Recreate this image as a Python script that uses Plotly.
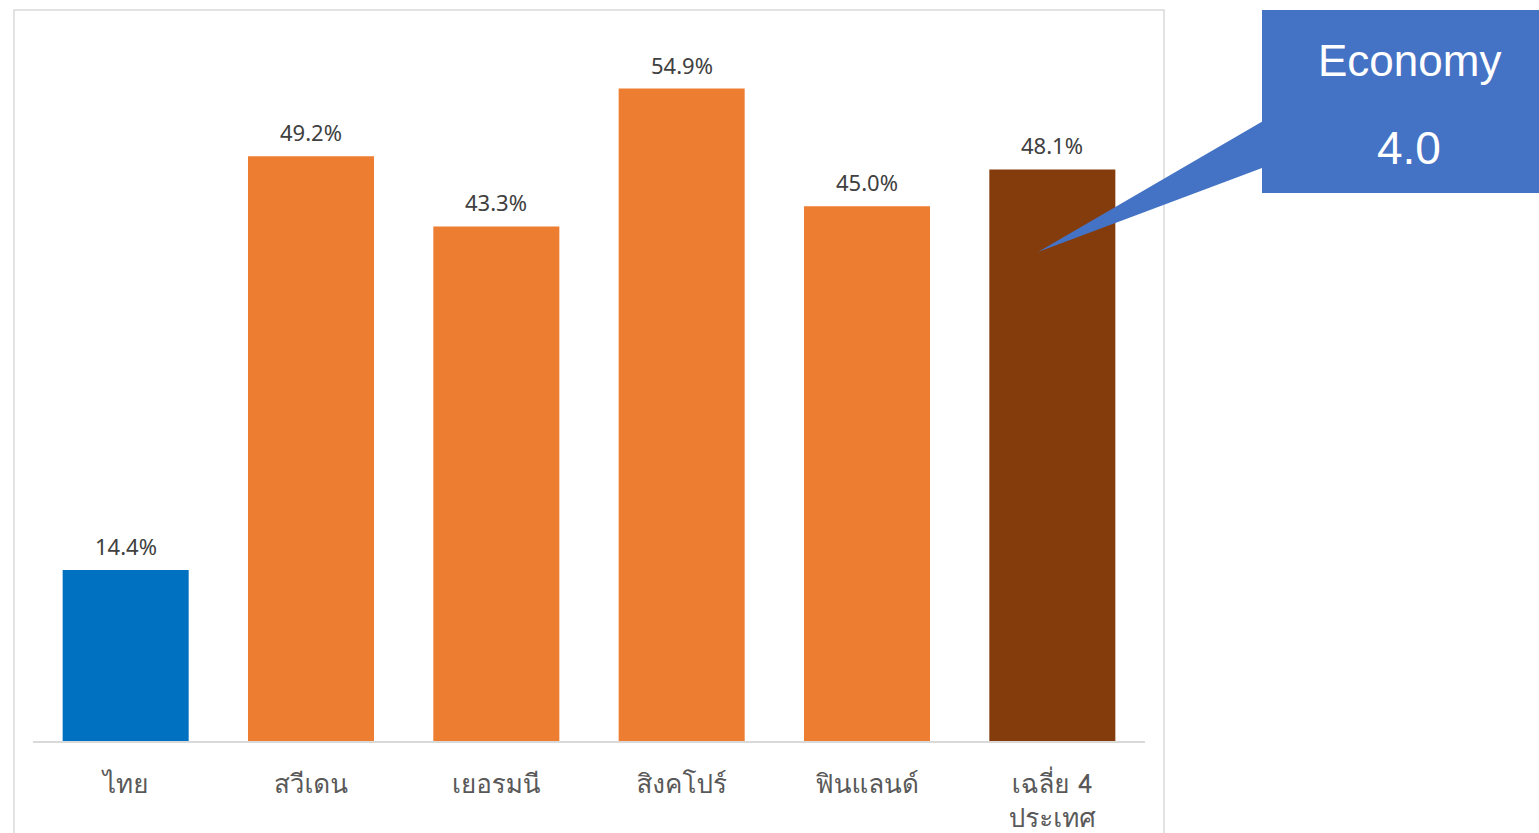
import plotly.graph_objects as go

# Share of high-skill employment (%)
categories = ["ไทย", "สวีเดน", "เยอรมนี", "สิงคโปร์", "ฟินแลนด์", "เฉลี่ย 4<br>ประเทศ"]
values = [14.4, 49.2, 43.3, 54.9, 45.0, 48.1]
bar_colors = ["#0070C0", "#ED7D31", "#ED7D31", "#ED7D31", "#ED7D31", "#843C0C"]
callout_lines = ["Economy", "4.0"]

W_FIG, H_FIG = 1539, 833
M_L, M_R, M_T, M_B = 33, 394, 28, 92
PW = W_FIG - M_L - M_R
PH = H_FIG - M_T - M_B

def px(x):
    return (x - M_L) / PW

def py(y):
    return (H_FIG - M_B - y) / PH

THAI_FONT = "Tahoma, Loma, Garuda, 'Noto Sans Thai Looped', 'Noto Sans Thai', 'Noto Sans', sans-serif"
NUM_FONT = "Tahoma, 'Noto Sans', 'Open Sans', sans-serif"
CALLOUT_FONT = "'Liberation Sans', Arial, sans-serif"

fig = go.Figure()
fig.add_trace(go.Bar(
    x=list(range(len(categories))),
    y=values,
    marker=dict(color=bar_colors, line=dict(width=0)),
    hoverinfo="skip",
))

# Value labels above each bar
annotations = []
for i, v in enumerate(values):
    annotations.append(dict(
        x=i, y=v, xref="x", yref="y",
        text=f"{v:.1f}%", showarrow=False,
        xanchor="center", yanchor="middle",
        yshift=24, font=dict(family=NUM_FONT, size=22, color="#404040"),
    ))

# Callout text
for text, ypix, size in zip(callout_lines, (60, 148), (44, 46)):
    annotations.append(dict(
        x=px(1409), y=py(ypix), xref="paper", yref="paper",
        text=text, showarrow=False,
        xanchor="center", yanchor="middle",
        font=dict(family=CALLOUT_FONT, size=size, color="white"),
    ))

shapes = [
    # chart frame
    dict(type="rect", xref="paper", yref="paper",
         x0=px(14), x1=px(1164), y0=py(845), y1=py(10),
         line=dict(color="#D9D9D9", width=1.5), fillcolor="rgba(0,0,0,0)", layer="below"),
    # callout pointer
    dict(type="path", xref="paper", yref="paper",
         path=f"M {px(1270)},{py(117)} L {px(1038)},{py(252)} L {px(1270)},{py(165)} Z",
         line=dict(width=0), fillcolor="#4472C4"),
    # callout box
    dict(type="rect", xref="paper", yref="paper",
         x0=px(1262), x1=px(1545), y0=py(193), y1=py(10),
         line=dict(width=0), fillcolor="#4472C4"),
]

fig.update_layout(
    width=W_FIG, height=H_FIG,
    margin=dict(l=M_L, r=M_R, t=M_T, b=M_B, pad=0, autoexpand=False),
    paper_bgcolor="white", plot_bgcolor="white",
    showlegend=False,
    bargap=0.32,
    annotations=annotations,
    shapes=shapes,
    xaxis=dict(
        tickmode="array", tickvals=list(range(len(categories))), ticktext=categories,
        range=[-0.5, len(categories) - 0.5],
        showline=True, linecolor="#D9D9D9", linewidth=1.5,
        showgrid=False, zeroline=False, ticks="",
        automargin=False,
        ticklabelstandoff=19,
        tickfont=dict(family=THAI_FONT, size=26, color="#595959"),
    ),
    yaxis=dict(range=[0, 60], visible=False, showgrid=False, zeroline=False,
               automargin=False),
)

fig.write_html("out.html")
